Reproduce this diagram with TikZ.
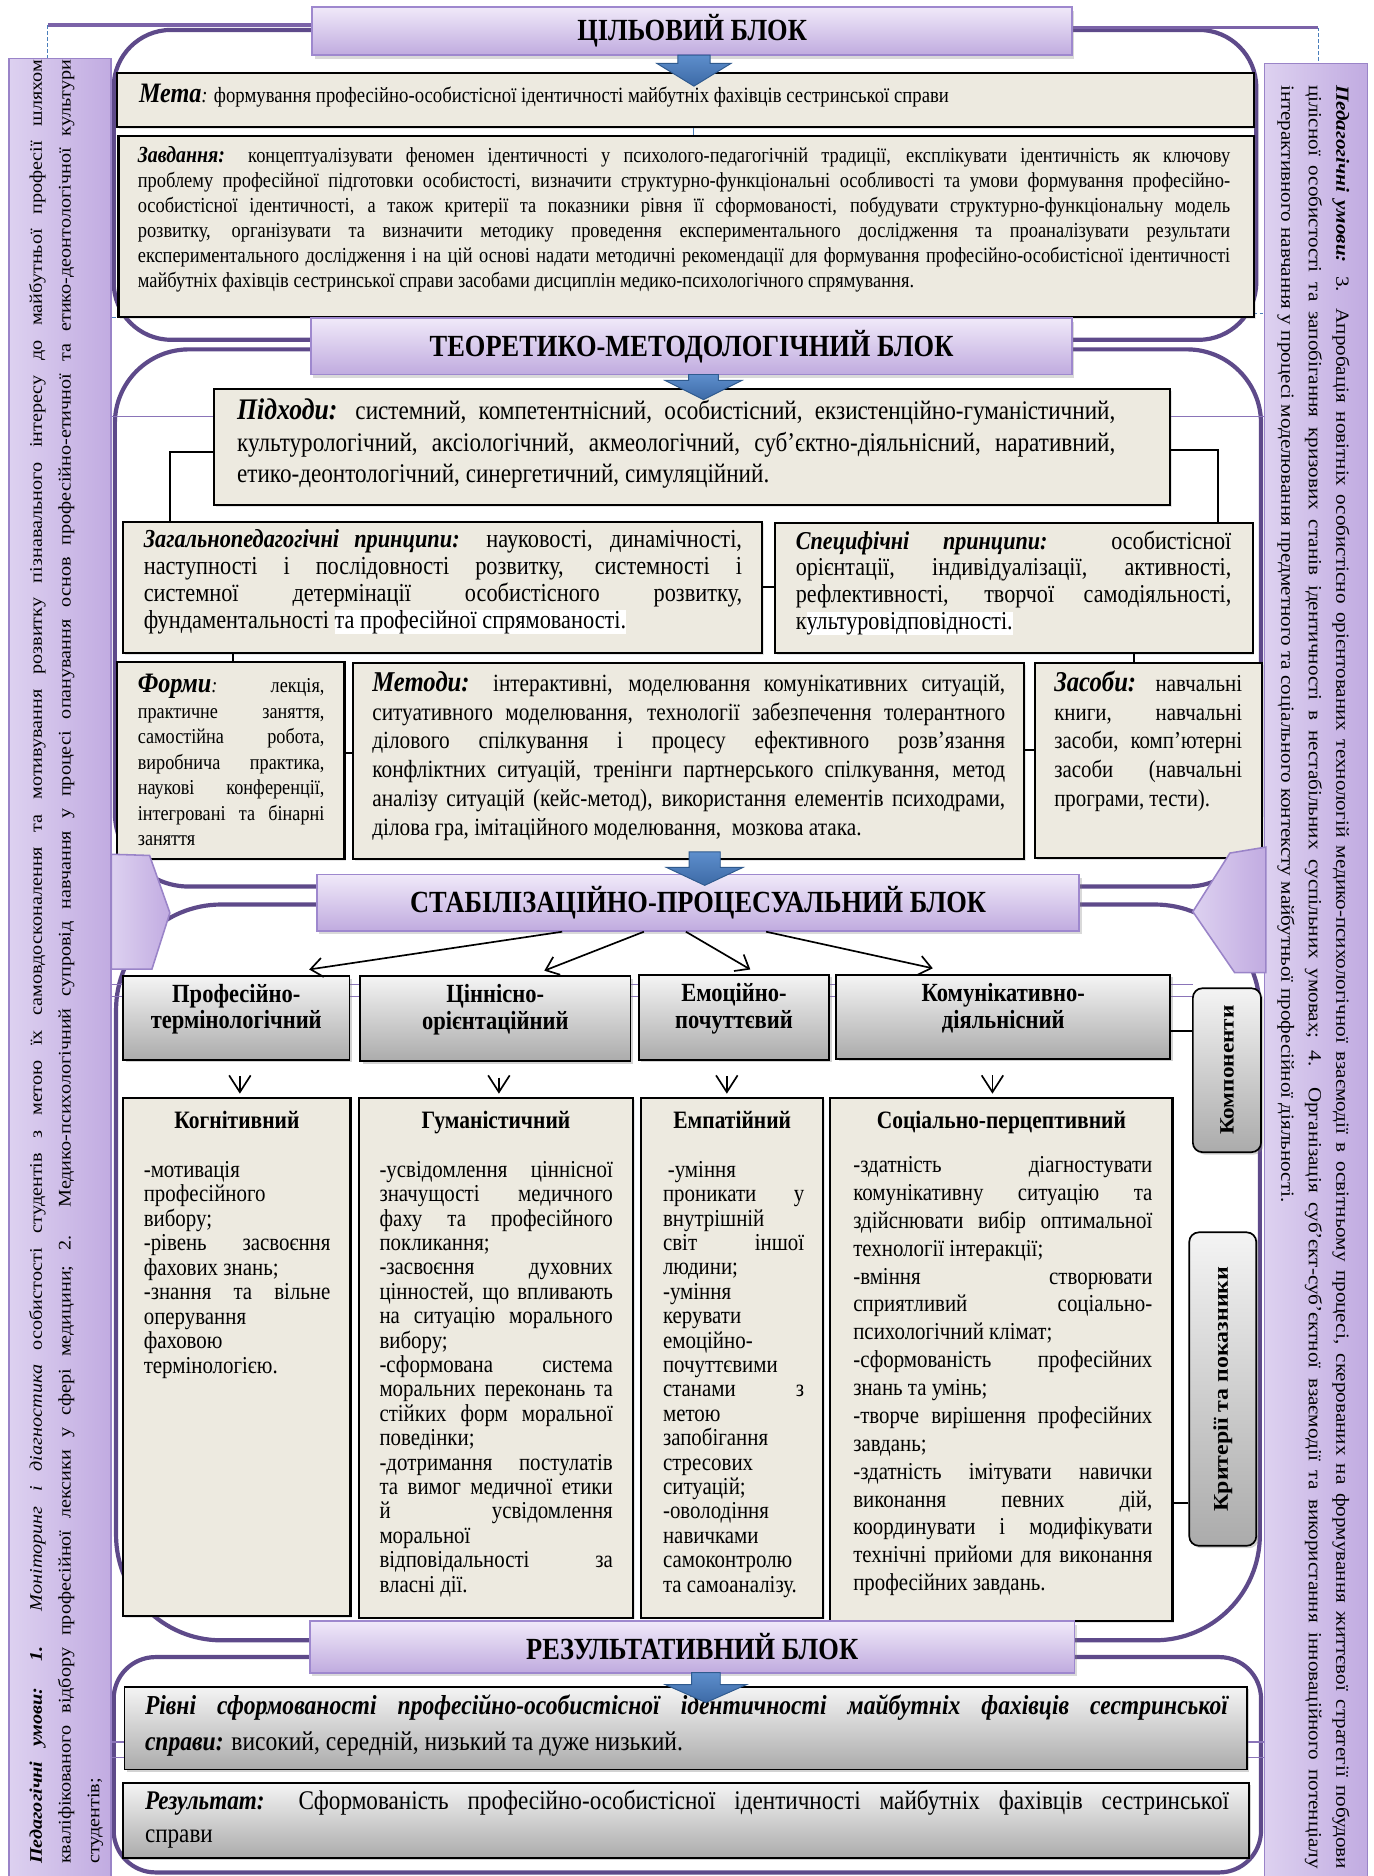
\documentclass[tikz,border=0pt]{standalone}
\usepackage{fontspec}
\setmainfont{Liberation Serif}[FakeStretch=0.86]
\newfontfamily\sidefont{Liberation Serif}[FakeStretch=1.14]
\usetikzlibrary{fit,shadows,arrows.meta,calc}
\tolerance=10000
\hbadness=10000
\hyphenpenalty=10000
\exhyphenpenalty=10000
\definecolor{beigeC}{HTML}{EDEAE0}
\definecolor{frameC}{HTML}{5E4A8A}
\definecolor{thinC}{HTML}{8A74B8}
\definecolor{titleT}{HTML}{F0E9F9}
\definecolor{titleBot}{HTML}{C0ABDF}
\definecolor{titleD}{HTML}{9E88CE}
\definecolor{greyT}{HTML}{F4F4F4}
\definecolor{greyB}{HTML}{ABABAB}
\definecolor{sideL}{HTML}{DDD1F0}
\definecolor{sideR}{HTML}{C1ABE1}
\definecolor{sideD}{HTML}{9A84C8}
\definecolor{arrT}{HTML}{5D8ECC}
\definecolor{arrB}{HTML}{3D6AA6}
\definecolor{arrD}{HTML}{2F5A8E}
\definecolor{dashC}{HTML}{4A7EBB}
\definecolor{topLineC}{HTML}{7B63A8}
\newcommand{\fs}[2]{\fontsize{#1}{#2}\selectfont}
\newcommand{\bi}[1]{\textbf{\textit{#1}}}
\newcommand{\hlw}[1]{{\setlength{\fboxsep}{0pt}\colorbox{white}{#1}}}
\newcommand{\barrow}[6]{\path[blockarrow] (#1-#5,#2) -- (#1+#5,#2) -- (#1+#5,#3) -- (#1+#6,#3) -- (#1,#4) -- (#1-#6,#3) -- (#1-#5,#3) -- cycle;}
\begin{document}
\begin{tikzpicture}[x=1pt,y=-1pt,
  blockframe/.style={draw=frameC,line width=3.5pt},
  beigebox/.style={draw=black,line width=1.8pt,fill=beigeC,inner sep=0pt,drop shadow={opacity=.2,shadow xshift=1.5pt,shadow yshift=-1.5pt}},
  greybox/.style={draw=black,line width=1.4pt,top color=greyT,bottom color=greyB,inner sep=0pt,drop shadow={opacity=.35,shadow xshift=2pt,shadow yshift=-2pt}},
  titlebox/.style={draw=titleD,line width=1.5pt,top color=titleT,bottom color=titleBot,inner sep=0pt,drop shadow={opacity=.3,shadow xshift=2pt,shadow yshift=-3pt},font=\bfseries\fs{25.7}{28}},
  txt/.style={inner sep=0pt,anchor=base west,align=justify},
  txtl/.style={inner sep=0pt,anchor=base west},
  ctitle/.style={inner sep=0pt,anchor=base,font=\bfseries\fs{20.9}{22}},
  conn/.style={draw=black,line width=1.7pt},
  thinp/.style={draw=thinC,line width=1.3pt},
  blockarrow/.style={draw=arrD,line width=0.8pt,top color=arrT,bottom color=arrB},
  sidebar/.style={draw=sideD,line width=1.3pt,left color=sideL,right color=sideR,inner sep=0pt},
  chev/.style={draw=sideD,line width=1.3pt,left color=sideL,right color=sideR},
  varrow/.style={-{Straight Barb[length=10pt,width=16pt]},line width=1.4pt},
  varrowb/.style={-{Straight Barb[length=14pt,width=18pt]},line width=1.4pt,shorten >=3pt},
  dashb/.style={draw=dashC,line width=0.8pt,dash pattern=on 3pt off 2pt},
  sidetag/.style={draw=black,line width=1.4pt,rounded corners=8pt,top color=greyT,bottom color=greyB,rotate=90,inner sep=0pt,drop shadow={opacity=.35,shadow xshift=2pt,shadow yshift=-2pt}},
  comptitle/.style={align=center,font=\bfseries\fs{21.9}{22.3}},
]
\useasboundingbox (0,0) rectangle (1148,1568);

% ---------- frames ----------
\draw[blockframe,rounded corners=48pt] (95,25) rectangle (1050,284);
\draw[blockframe,rounded corners=62pt] (96,292) rectangle (1054,741);
\draw[blockframe,rounded corners=88pt] (97,756) rectangle (1053,1371);
\draw[blockframe,rounded corners=35pt] (95,1385) rectangle (1054,1565);

% ---------- side bars ----------
\node[sidebar,fit={(7.5,49) (93,1572)}] (lbar) {};
\node[sidebar,fit={(1057,53) (1143,1572)}] (rbar) {};

% ---------- thin lines ----------
\draw[topLineC,line width=3.3pt] (40,21) -- (262,21);
\draw[topLineC,line width=3.3pt] (895,23) -- (1102,23);
\draw[dashb] (40,21) -- (lbar.north -| 40,0);
\draw[dashb] (1102,23) -- (rbar.north -| 1102,0);
\draw[dashb] (lbar.east |- 0,265) -- (261,265);
\draw[dashb] (1048,262) -- (rbar.west |- 0,262);
\draw[dashC,line width=0.8pt] (580,106) -- (580,114);
\draw[thinp] (lbar.east |- 0,348) -- (rbar.west |- 0,348);
\draw[thinp] (lbar.east |- 0,823) -- (997,823);
\draw[thinp] (lbar.east |- 0,833) -- (997,833);
\draw[thinp] (lbar.east |- 0,1456) -- (rbar.west |- 0,1456);
\draw[thinp] (lbar.east |- 0,1469) -- (rbar.west |- 0,1469);

% ---------- goal block ----------
\node[beigebox,fit={(98,61) (1048,106)}] (meta) {};
\node[txtl,font=\fs{18.2}{20}] (metaT) at (116,86) {{\fs{23.5}{24}\bi{Мета}}\textit{:} формування професійно-особистісної ідентичності майбутніх фахівців сестринської справи};

\node[beigebox,fit={(99,114) (1048,265)}] (zavd) {};
\node[txt,text width=913pt,font=\fs{17.9}{20.8}] (zavdT) at (115,136) {{\fs{19.3}{20.8}\bi{Завдання:}} концептуалізувати феномен ідентичності у психолого-педагогічній традиції, експлікувати ідентичність як ключову\linebreak проблему професійної підготовки особистості, визначити структурно-функціональні особливості та умови формування професійно-\linebreak особистісної ідентичності, а також критерії та показники рівня її сформованості, побудувати структурно-функціональну модель\linebreak розвитку, організувати та визначити методику проведення експериментального дослідження та проаналізувати результати\linebreak експериментального дослідження і на цій основі надати методичні рекомендації для формування професійно-особистісної ідентичності\linebreak майбутніх фахівців сестринської справи засобами дисциплін медико-психологічного спрямування.};

% ---------- theoretical block ----------
\node[beigebox,fit={(179,325) (978,422)}] (pidh) {};
\node[txt,text width=734pt,font=\fs{22.5}{26}] (pidhT) at (198,351) {{\fs{25}{26}\bi{Підходи:}} системний, компетентнісний, особистісний, екзистенційно-гуманістичний,\linebreak культурологічний, аксіологічний, акмеологічний, суб’єктно-діяльнісний, наративний,\linebreak етико-деонтологічний, синергетичний, симуляційний.};

\node[beigebox,fit={(103,436) (637,546)}] (zag) {};
\node[txt,text width=500pt,font=\fs{21.7}{22.3}] (zagT) at (120,458) {\bi{Загальнопедагогічні принципи:} науковості, динамічності,\linebreak наступності і послідовності розвитку, системності і\linebreak системної детермінації особистісного розвитку,\linebreak фундаментальності \hlw{та професійної спрямованості.}};

\node[beigebox,fit={(648,437) (1047,546)}] (spec) {};
\node[txt,text width=364pt,font=\fs{21.5}{22.3}] (specT) at (665,459) {\bi{Специфічні принципи:} особистісної\linebreak орієнтації, індивідуалізації, активності,\linebreak рефлективності, творчої самодіяльності,\linebreak к\hlw{ультуровідповідності.}};

\node[beigebox,fit={(98,553) (288,718)}] (formy) {};
\node[txt,text width=156pt,font=\fs{17.7}{21.3}] (formyT) at (115,579) {{\fs{23.5}{24}\bi{Форми}}\textit{:} лекція,\linebreak практичне заняття,\linebreak самостійна робота,\linebreak виробнича практика,\linebreak наукові конференції,\linebreak інтегровані та бінарні\linebreak заняття};

\node[beigebox,fit={(295,554) (856,718)}] (met) {};
\node[txt,text width=529pt,font=\fs{20.7}{24}] (metT) at (311,578) {{\fs{24}{24}\bi{Методи:}} інтерактивні, моделювання комунікативних ситуацій,\linebreak ситуативного моделювання, технології забезпечення толерантного\linebreak ділового спілкування і процесу ефективного розв’язання\linebreak конфліктних ситуацій, тренінги партнерського спілкування, метод\linebreak аналізу ситуацій (кейс-метод), використання елементів психодрами,\linebreak ділова гра, імітаційного моделювання,~ мозкова атака.};

\node[beigebox,fit={(865,554) (1055,717)}] (zas) {};
\node[txt,text width=157pt,font=\fs{20.3}{24}] (zasT) at (881,578) {{\fs{24}{24}\bi{Засоби:}} навчальні\linebreak книги, навчальні\linebreak засоби, комп’ютерні\linebreak засоби (навчальні\linebreak програми, тести).};

% ---------- components ----------
\node[greybox,comptitle,fit={(103,816) (292,886)}] (c1) {Професійно-\\термінологічний};
\node[greybox,comptitle,fit={(301,816) (527,887)}] (c2) {Ціннісно-\\орієнтаційний};
\node[greybox,comptitle,fit={(534,815) (693,886)}] (c3) {Емоційно-\\почуттєвий};
\node[greybox,comptitle,fit={(699,815) (978,885)}] (c4) {Комунікативно-\\діяльнісний};

% ---------- criteria ----------
\node[beigebox,fit={(103,918) (293,1351)}] (k1) {};
\node[ctitle] (k1h) at (198,943) {Когнітивний};
\node[txt,text width=156pt,font=\fs{20.3}{20.5}] (k1T) at (120,984) {-мотивація\linebreak професійного\linebreak вибору;\\ -рівень засвоєння\linebreak фахових знань;\\ -знання та вільне\linebreak оперування\linebreak фаховою\linebreak термінологією.};

\node[beigebox,fit={(300,918) (529,1352)}] (k2) {};
\node[ctitle] (k2h) at (414.5,943) {Гуманістичний};
\node[txt,text width=195pt,font=\fs{20.3}{20.4}] (k2T) at (317,984) {-усвідомлення ціннісної\linebreak значущості медичного\linebreak фаху та професійного\linebreak покликання;\\ -засвоєння духовних\linebreak цінностей, що впливають\linebreak на ситуацію морального\linebreak вибору;\\ -сформована система\linebreak моральних переконань та\linebreak стійких форм моральної\linebreak поведінки;\\ -дотримання постулатів\linebreak та вимог медичної етики\linebreak й усвідомлення\linebreak моральної\linebreak відповідальності за\linebreak власні дії.};

\node[beigebox,fit={(536,918) (688,1352)}] (k3) {};
\node[ctitle] (k3h) at (612,943) {Емпатійний};
\node[txt,text width=118pt,font=\fs{20.3}{20.4}] (k3T) at (554,984) {\hspace*{4pt}-уміння\linebreak проникати у\linebreak внутрішній\linebreak світ іншої\linebreak людини;\\ -уміння\linebreak керувати\linebreak емоційно-\linebreak почуттєвими\linebreak станами з\linebreak метою\linebreak запобігання\linebreak стресових\linebreak ситуацій;\\ -оволодіння\linebreak навичками\linebreak самоконтролю\linebreak та самоаналізу.};

\node[beigebox,fit={(694,918) (980,1355)}] (k4) {};
\node[ctitle] (k4h) at (837,943) {Соціально-перцептивний};
\node[txt,text width=250pt,font=\fs{20.3}{23.3}] (k4T) at (713,980) {-здатність діагностувати\linebreak комунікативну ситуацію та\linebreak здійснювати вибір оптимальної\linebreak технології інтеракції;\\ -вміння створювати\linebreak сприятливий соціально-\linebreak психологічний клімат;\\ -сформованість професійних\linebreak знань та умінь;\\ -творче вирішення професійних\linebreak завдань;\\ -здатність імітувати навички\linebreak виконання певних дій,\linebreak координувати і модифікувати\linebreak технічні прийоми для виконання\linebreak професійних завдань.};

\node[sidetag,minimum width=137pt,minimum height=57pt,font=\sidefont\bfseries\fs{17}{20}] (komp) at (1025.5,894.5) {Компоненти};
\node[sidetag,minimum width=262pt,minimum height=56pt,font=\sidefont\bfseries\fs{17.5}{20}] (krit) at (1022,1161) {Критерії та показники};

% ---------- results ----------
\node[greybox,fit={(104,1410) (1042,1479)}] (rivni) {};
\node[txt,text width=906pt,font=\fs{22.9}{30}] (rivniT) at (121,1433) {\bi{Рівні сформованості професійно-особистісної ідентичності майбутніх фахівців сестринської}\linebreak \bi{справи:} високий, середній, низький та дуже низький.};
\node[greybox,fit={(103,1490) (1044,1553)}] (rez) {};
\node[txt,text width=906pt,font=\fs{22.5}{28}] (rezT) at (121,1512) {\bi{Результат:} Сформованість професійно-особистісної ідентичності майбутніх фахівців сестринської\linebreak справи};

% ---------- connectors ----------
\draw[conn] ([yshift=-4.5pt]pidh.west) -| ([xshift=40pt]zag.north west);
\draw[conn] ([yshift=-2.5pt]pidh.east) -| ([xshift=-30pt]spec.north east);
\draw[conn] (zag.east) -- (zag.east -| spec.west);
\coordinate (z1) at ($(zag.south west)+(93,0)$);
\draw[conn] (z1) -- (z1 |- formy.north);
\coordinate (s1) at ($(spec.south west)+(301,0)$);
\draw[conn] (s1) -- (s1 |- zas.north);
\coordinate (f1) at ($(formy.east)+(0,-6.5)$);
\draw[conn] (f1) -- (f1 -| met.west);
\coordinate (m1) at ($(met.east)+(0,-9)$);
\draw[conn] (m1) -- (m1 -| zas.west);
\coordinate (c4e) at ($(c4.east)+(0,12)$);
\draw[conn] (c4e) -- (c4e -| komp.north);
\coordinate (k4e) at ($(k4.east)+(0,120)$);
\draw[conn] (k4e) -- (k4e -| krit.north);

\coordinate (d1) at ($(c1.south)+(3,13)$);
\draw[varrowb] (d1) -- (d1 |- k1.north);
\coordinate (d2) at ($(c2.south)+(3,13)$);
\draw[varrowb] (d2) -- (d2 |- k2.north);
\coordinate (d3) at ($(c3.south)+(-6,13)$);
\draw[varrowb] (d3) -- (d3 |- k3.north);
\coordinate (d4) at ($(c4.south)+(-9,13)$);
\draw[varrowb] (d4) -- (d4 |- k4.north);

% ---------- titles ----------
\node[titlebox,minimum width=635pt,minimum height=40pt] (t1) at (578.5,26) {ЦІЛЬОВИЙ БЛОК};
\node[titlebox,minimum width=636pt,minimum height=47pt] (t2) at (578,289.5) {ТЕОРЕТИКО-МЕТОДОЛОГІЧНИЙ БЛОК};
\node[titlebox,minimum width=637pt,minimum height=47pt] (t3) at (583.5,754.5) {СТАБІЛІЗАЦІЙНО-ПРОЦЕСУАЛЬНИЙ БЛОК};
\node[titlebox,minimum width=639pt,minimum height=43pt] (t4) at (578.5,1376.5) {РЕЗУЛЬТАТИВНИЙ БЛОК};

% ---------- block arrows ----------
\barrow{580}{46}{53}{72}{13.5}{31}
\barrow{588}{313}{318}{334}{12.5}{32}
\barrow{589}{712}{725}{740}{13}{32}
\barrow{590}{1398}{1408}{1423}{12}{34}

% ---------- arrows to components ----------
\draw[varrow] ($(t3.south west)!.322!(t3.south east)$) -- ($(c1.north west)!.82!(c1.north east)+(0,-5)$);
\draw[varrow] ($(t3.south west)!.429!(t3.south east)$) -- ($(c2.north west)!.68!(c2.north east)+(0,-4)$);
\draw[varrow] ($(t3.south west)!.484!(t3.south east)$) -- ($(c3.north west)!.585!(c3.north east)+(0,-4)$);
\draw[varrow] ($(t3.south west)!.589!(t3.south east)$) -- ($(c4.north west)!.29!(c4.north east)+(0,-5)$);

% ---------- chevrons ----------
\path[chev] (93,714) -- (125,715) -- (142,763) -- (127,810) -- (93,810) -- cycle;
\path[chev] (1058,708) -- (1028,713) -- (997,762) -- (1032,813) -- (1058,813) -- cycle;

% ---------- side texts ----------
\node[txt,rotate=90,text width=1508pt,font=\sidefont\fs{14.8}{24}] (lbarT) at (35,1558) {\bi{Педагогічні умови: 1.} \textit{Моніторинг і діагностика} особистості студентів з метою їх самовдосконалення та мотивування розвитку пізнавального інтересу до майбутньої професії шляхом\linebreak кваліфікованого відбору професійної лексики у сфері медицини; 2. Медико-психологічний супровід навчання у процесі опанування основ професійно-етичної та етико-деонтологічної культури\linebreak студентів;};
\node[txt,rotate=-90,text width=1491pt,font=\sidefont\fs{15.5}{23}] (rbarT) at (1117,71) {\bi{Педагогічні умови:} 3. Апробація новітніх особистісно орієнтованих технологій медико-психологічної взаємодії в освітньому процесі, скерованих на формування життєвої стратегії побудови\linebreak цілісної особистості та запобігання кризових станів ідентичності в нестабільних суспільних умовах; 4. Організація суб’єкт-суб’єктної взаємодії та використання інноваційного потенціалу\linebreak інтерактивного навчання у процесі моделювання предметного та соціального контексту майбутньої професійної діяльності.};
\end{tikzpicture}
\end{document}
